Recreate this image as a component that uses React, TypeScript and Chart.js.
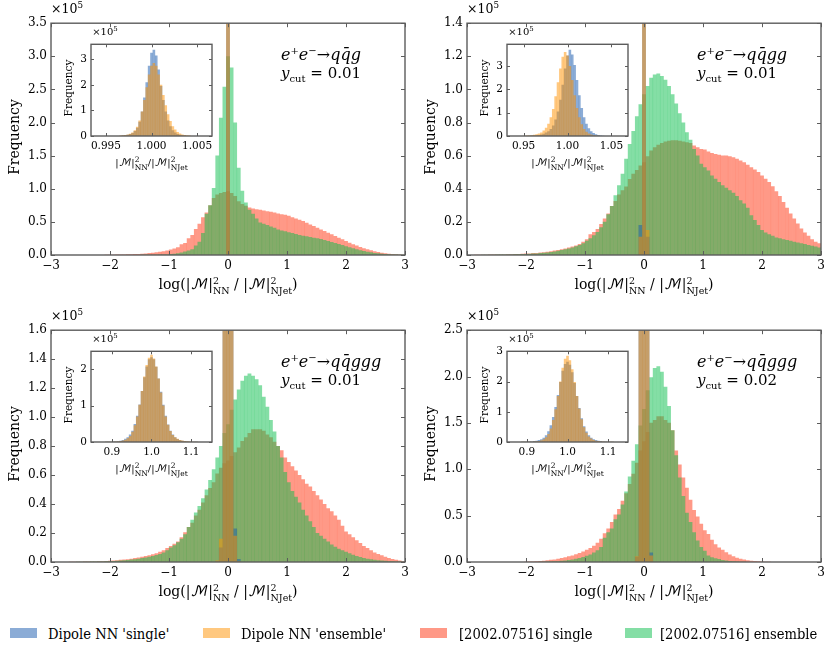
import { useEffect, useRef } from "react"
import { Chart, registerables } from "chart.js"

Chart.register(...registerables)

const SERIF = "'DejaVu Serif', serif"
const BLUE = "rgba(23, 90, 173, 0.5)"
const ORANGE = "rgba(255, 145, 0, 0.5)"
const RED = "rgba(255, 99, 71, 0.65)"
const GREEN = "rgba(10, 190, 75, 0.5)"
const FRAME = "#5c5c5c"

// main histograms: 99 bins between -3 and 3, values in units of 10^5
const MAIN_BIN = 6 / 99
const INSET_BINS = 51

const refSingle1 = [
  0, 0, 0, 0, 0, 0, 0, 0, 0, 0,
  0, 0, 0, 0, 0, 0.001, 0.002, 0.003, 0.004, 0.005,
  0.006, 0.008, 0.01, 0.012, 0.015, 0.018, 0.022, 0.027, 0.033, 0.04,
  0.047, 0.056, 0.066, 0.08, 0.095, 0.115, 0.16, 0.18, 0.25, 0.3,
  0.39, 0.47, 0.57, 0.64, 0.75, 0.86, 0.91, 0.935, 0.95, 0.96,
  0.935, 0.89, 0.81, 0.77, 0.74, 0.715, 0.7, 0.69, 0.68, 0.67,
  0.66, 0.65, 0.64, 0.625, 0.615, 0.605, 0.59, 0.57, 0.55, 0.53,
  0.51, 0.485, 0.46, 0.435, 0.41, 0.385, 0.36, 0.335, 0.31, 0.285,
  0.26, 0.235, 0.21, 0.185, 0.16, 0.14, 0.12, 0.1, 0.085, 0.07,
  0.055, 0.042, 0.032, 0.024, 0.017, 0.012, 0.008, 0.005, 0.003,
]
const refEnsemble1 = [
  0, 0, 0, 0, 0, 0, 0, 0, 0, 0,
  0, 0, 0, 0, 0, 0, 0, 0, 0, 0,
  0, 0, 0, 0, 0, 0.001, 0.001, 0.002, 0.002, 0.003,
  0.004, 0.005, 0.007, 0.012, 0.018, 0.026, 0.037, 0.052, 0.065, 0.085,
  0.14, 0.2, 0.33, 0.62, 0.75, 1.01, 1.5, 2.07, 2.54, 3.0,
  2.83, 2.0, 1.315, 0.97, 0.79, 0.68, 0.62, 0.55, 0.49, 0.47,
  0.45, 0.43, 0.41, 0.385, 0.37, 0.355, 0.34, 0.33, 0.315, 0.3,
  0.29, 0.28, 0.27, 0.26, 0.25, 0.24, 0.225, 0.21, 0.195, 0.18,
  0.165, 0.15, 0.13, 0.115, 0.1, 0.085, 0.07, 0.058, 0.048, 0.038,
  0.03, 0.023, 0.017, 0.012, 0.009, 0.006, 0.004, 0.002, 0.001,
]
const refSingle2 = [
  0, 0, 0.001, 0.001, 0.001, 0.001, 0.002, 0.002, 0.002, 0.003,
  0.003, 0.004, 0.004, 0.005, 0.006, 0.007, 0.008, 0.009, 0.011, 0.012,
  0.014, 0.016, 0.019, 0.022, 0.026, 0.03, 0.034, 0.039, 0.044, 0.05,
  0.057, 0.065, 0.08, 0.095, 0.124, 0.138, 0.157, 0.187, 0.22, 0.25,
  0.295, 0.325, 0.364, 0.39, 0.413, 0.458, 0.49, 0.512, 0.54, 0.56,
  0.595, 0.63, 0.65, 0.665, 0.675, 0.685, 0.69, 0.693, 0.693, 0.69,
  0.685, 0.68, 0.675, 0.66, 0.65, 0.64, 0.636, 0.625, 0.615, 0.61,
  0.605, 0.6, 0.6, 0.595, 0.59, 0.58, 0.57, 0.56, 0.545, 0.53,
  0.515, 0.5, 0.48, 0.46, 0.44, 0.415, 0.385, 0.355, 0.32, 0.285,
  0.25, 0.22, 0.19, 0.16, 0.135, 0.115, 0.095, 0.08, 0.07,
]
const refEnsemble2 = [
  0, 0, 0, 0, 0.001, 0.001, 0.001, 0.001, 0.002, 0.002,
  0.002, 0.003, 0.003, 0.004, 0.004, 0.005, 0.006, 0.007, 0.008, 0.009,
  0.011, 0.013, 0.015, 0.018, 0.021, 0.025, 0.029, 0.034, 0.039, 0.045,
  0.052, 0.06, 0.07, 0.085, 0.1, 0.118, 0.138, 0.167, 0.2, 0.246,
  0.295, 0.36, 0.42, 0.49, 0.58, 0.67, 0.748, 0.837, 0.91, 0.97,
  1.02, 1.07, 1.09, 1.095, 1.08, 1.057, 1.02, 0.97, 0.915, 0.856,
  0.8, 0.74, 0.695, 0.64, 0.6, 0.55, 0.53, 0.51, 0.48, 0.46,
  0.44, 0.42, 0.405, 0.39, 0.375, 0.355, 0.33, 0.31, 0.285, 0.24,
  0.21, 0.18, 0.15, 0.135, 0.125, 0.115, 0.105, 0.1, 0.095, 0.09,
  0.085, 0.08, 0.075, 0.07, 0.065, 0.06, 0.055, 0.05, 0.045,
]
const refSingle3 = [
  0, 0, 0, 0, 0, 0.001, 0.001, 0.001, 0.001, 0.002,
  0.002, 0.003, 0.003, 0.004, 0.005, 0.006, 0.008, 0.01, 0.012, 0.014,
  0.016, 0.019, 0.022, 0.026, 0.03, 0.035, 0.04, 0.046, 0.053, 0.06,
  0.07, 0.08, 0.095, 0.11, 0.125, 0.14, 0.17, 0.205, 0.24, 0.27,
  0.32, 0.36, 0.41, 0.46, 0.51, 0.55, 0.61, 0.65, 0.68, 0.7,
  0.73, 0.757, 0.79, 0.835, 0.86, 0.89, 0.915, 0.915, 0.915, 0.905,
  0.88, 0.86, 0.83, 0.8, 0.77, 0.72, 0.69, 0.66, 0.63, 0.6,
  0.57, 0.54, 0.52, 0.49, 0.46, 0.43, 0.4, 0.37, 0.35, 0.32,
  0.29, 0.25, 0.21, 0.19, 0.17, 0.15, 0.13, 0.11, 0.095, 0.08,
  0.065, 0.055, 0.045, 0.035, 0.027, 0.02, 0.014, 0.009, 0.005,
]
const refEnsemble3 = [
  0, 0, 0, 0, 0, 0, 0, 0.001, 0.001, 0.001,
  0.001, 0.002, 0.002, 0.003, 0.003, 0.004, 0.005, 0.006, 0.008, 0.009,
  0.011, 0.013, 0.016, 0.019, 0.022, 0.026, 0.03, 0.035, 0.04, 0.047,
  0.055, 0.065, 0.08, 0.1, 0.115, 0.135, 0.16, 0.19, 0.24, 0.29,
  0.34, 0.385, 0.44, 0.5, 0.565, 0.64, 0.72, 0.8, 0.89, 0.95,
  1.05, 1.12, 1.19, 1.25, 1.285, 1.3, 1.285, 1.26, 1.22, 1.14,
  1.07, 0.98, 0.9, 0.8, 0.72, 0.62, 0.55, 0.49, 0.45, 0.41,
  0.36, 0.32, 0.28, 0.24, 0.2, 0.18, 0.16, 0.14, 0.12, 0.105,
  0.09, 0.08, 0.07, 0.06, 0.05, 0.04, 0.033, 0.027, 0.022, 0.018,
  0.014, 0.011, 0.009, 0.007, 0.005, 0.004, 0.003, 0.002, 0.001,
]
const refSingle4 = [
  0, 0, 0, 0, 0, 0, 0, 0, 0, 0,
  0, 0, 0, 0, 0, 0, 0.001, 0.003, 0.005, 0.007,
  0.01, 0.013, 0.017, 0.022, 0.027, 0.034, 0.042, 0.05, 0.06, 0.07,
  0.082, 0.096, 0.112, 0.13, 0.15, 0.175, 0.205, 0.25, 0.31, 0.36,
  0.43, 0.51, 0.57, 0.66, 0.74, 0.84, 0.95, 1.07, 1.2, 1.3,
  1.4, 1.5, 1.53, 1.57, 1.57, 1.53, 1.5, 1.42, 1.2, 1.05,
  0.91, 0.8, 0.67, 0.56, 0.49, 0.41, 0.34, 0.3, 0.24, 0.19,
  0.155, 0.13, 0.105, 0.08, 0.06, 0.045, 0.033, 0.025, 0.018, 0.013,
  0.009, 0.006, 0.004, 0.002, 0.001, 0, 0, 0, 0, 0,
  0, 0, 0, 0, 0, 0, 0, 0, 0,
]
const refEnsemble4 = [
  0, 0, 0, 0, 0, 0, 0, 0, 0, 0,
  0, 0, 0, 0, 0, 0, 0, 0, 0, 0,
  0.001, 0.002, 0.003, 0.004, 0.006, 0.008, 0.011, 0.015, 0.02, 0.026,
  0.033, 0.042, 0.053, 0.066, 0.08, 0.1, 0.125, 0.16, 0.26, 0.32,
  0.36, 0.46, 0.51, 0.62, 0.76, 0.92, 1.09, 1.27, 1.47, 1.65,
  1.85, 1.99, 2.09, 2.11, 2.05, 1.89, 1.68, 1.42, 1.15, 0.91,
  0.71, 0.53, 0.43, 0.32, 0.23, 0.16, 0.12, 0.07, 0.05, 0.04,
  0.03, 0.02, 0.014, 0.01, 0.007, 0.004, 0.002, 0.001, 0, 0,
  0, 0, 0, 0, 0, 0, 0, 0, 0, 0,
  0, 0, 0, 0, 0, 0, 0, 0, 0,
]

// dipole NN spikes: the seven bins around zero, tall ones run off the axis
const dipoleSingle1 = [0, 0, 0, 12, 0, 0, 0]
const dipoleEnsemble1 = [0, 0, 0, 12, 0, 0, 0]
const dipoleSingle2 = [0, 0, 0.18, 12, 0.11, 0, 0]
const dipoleEnsemble2 = [0, 0, 0.11, 12, 0.15, 0, 0]
const dipoleSingle3 = [0.005, 0.1, 5, 5, 5, 0.23, 0.02]
const dipoleEnsemble3 = [0.01, 0.16, 5, 5, 5, 0.18, 0.005]
const dipoleSingle4 = [0, 0.055, 5, 5, 5, 0.1, 0]
const dipoleEnsemble4 = [0, 0.06, 5, 5, 5, 0.07, 0]

// insets: 51 bins around 1
const insetSingle1 = [
  0, 0, 0, 0, 0, 0, 0, 0, 0, 0, 0, 0, 0, 0.01, 0.02, 0.04, 0.07, 0.11, 0.19, 0.32, 0.55, 0.95, 1.5, 2.1, 2.75, 3.25,
  3.37, 3.15, 2.6, 1.95, 1.4, 0.95, 0.6, 0.38, 0.22, 0.13, 0.07, 0.04, 0.02, 0.01, 0, 0, 0, 0, 0, 0, 0, 0, 0, 0, 0,
]
const insetEnsemble1 = [
  0, 0, 0, 0, 0, 0, 0, 0, 0, 0, 0, 0, 0.01, 0.02, 0.03, 0.05, 0.08, 0.13, 0.22, 0.36, 0.6, 0.95, 1.4, 1.9, 2.4, 2.75,
  2.85, 2.75, 2.4, 2.0, 1.6, 1.2, 0.85, 0.58, 0.38, 0.25, 0.15, 0.09, 0.05, 0.03, 0.02, 0.01, 0, 0, 0, 0, 0, 0, 0, 0, 0,
]
const insetSingle2 = [
  0, 0, 0, 0, 0, 0, 0, 0, 0, 0.01, 0.015, 0.02, 0.03, 0.04, 0.06, 0.09, 0.14, 0.2, 0.3, 0.45, 0.7, 1.05, 1.55, 2.2, 2.9, 3.45,
  3.7, 3.5, 3.05, 2.4, 1.75, 1.2, 0.8, 0.52, 0.33, 0.2, 0.12, 0.07, 0.04, 0.02, 0.01, 0, 0, 0, 0, 0, 0, 0, 0, 0, 0,
]
const insetEnsemble2 = [
  0, 0, 0, 0, 0, 0, 0, 0.01, 0.015, 0.02, 0.03, 0.05, 0.07, 0.1, 0.15, 0.23, 0.35, 0.52, 0.8, 1.15, 1.7, 2.3, 2.9, 3.4, 3.6, 3.45,
  3.0, 2.4, 1.75, 1.2, 0.8, 0.5, 0.3, 0.18, 0.1, 0.06, 0.03, 0.015, 0.01, 0, 0, 0, 0, 0, 0, 0, 0, 0, 0, 0, 0,
]
const insetSingle3 = [
  0, 0, 0, 0, 0, 0, 0.002, 0.003, 0.005, 0.008, 0.012, 0.02, 0.033, 0.055, 0.085, 0.13, 0.2, 0.31, 0.49, 0.72, 1.03, 1.4, 1.78, 2.08, 2.28, 2.33,
  2.28, 2.07, 1.75, 1.38, 1.02, 0.72, 0.48, 0.31, 0.2, 0.125, 0.078, 0.05, 0.03, 0.018, 0.011, 0.007, 0.004, 0.003, 0.002, 0, 0, 0, 0, 0, 0,
]
const insetEnsemble3 = [
  0, 0, 0, 0, 0, 0, 0.001, 0.002, 0.003, 0.005, 0.008, 0.013, 0.022, 0.036, 0.06, 0.1, 0.165, 0.28, 0.46, 0.7, 1.02, 1.4, 1.8, 2.12, 2.32, 2.4,
  2.3, 2.08, 1.75, 1.36, 1.0, 0.7, 0.47, 0.3, 0.19, 0.125, 0.085, 0.055, 0.035, 0.022, 0.014, 0.008, 0.005, 0.003, 0.001, 0, 0, 0, 0, 0, 0,
]
const insetSingle4 = [
  0, 0, 0, 0, 0, 0, 0.002, 0.004, 0.006, 0.01, 0.016, 0.025, 0.04, 0.06, 0.09, 0.14, 0.22, 0.35, 0.55, 0.82, 1.15, 1.55, 1.98, 2.35, 2.58, 2.65,
  2.55, 2.3, 1.95, 1.52, 1.12, 0.78, 0.52, 0.34, 0.22, 0.14, 0.09, 0.06, 0.04, 0.025, 0.016, 0.01, 0.006, 0.004, 0.002, 0, 0, 0, 0, 0, 0,
]
const insetEnsemble4 = [
  0, 0, 0, 0, 0, 0, 0.001, 0.002, 0.003, 0.005, 0.008, 0.013, 0.02, 0.032, 0.05, 0.085, 0.15, 0.26, 0.44, 0.72, 1.08, 1.52, 2.0, 2.45, 2.75, 2.85,
  2.7, 2.4, 1.98, 1.52, 1.1, 0.75, 0.48, 0.3, 0.18, 0.11, 0.065, 0.04, 0.025, 0.015, 0.009, 0.005, 0.003, 0.002, 0.001, 0, 0, 0, 0, 0, 0,
]

const mainXTicks = [-3, -2, -1, 0, 1, 2, 3]
const mainXLabels = ["\u22123", "\u22122", "\u22121", "0", "1", "2", "3"]
const mainYTicks1 = [0, 0.5, 1, 1.5, 2, 2.5, 3, 3.5]
const mainYTicks2 = [0, 0.2, 0.4, 0.6, 0.8, 1, 1.2, 1.4]
const mainYTicks3 = [0, 0.2, 0.4, 0.6, 0.8, 1, 1.2, 1.4, 1.6]
const mainYTicks4 = [0, 0.5, 1, 1.5, 2, 2.5]

const insetXTicks1 = [0.995, 1, 1.005]
const insetXLabels1 = ["0.995", "1.000", "1.005"]
const insetXTicks2 = [0.95, 1, 1.05]
const insetXLabels2 = ["0.95", "1.00", "1.05"]
const insetXTicks3 = [0.9, 1, 1.1]
const insetXLabels3 = ["0.9", "1.0", "1.1"]
const insetYTicks1 = [0, 1, 2, 3]
const insetYTicks3 = [0, 1, 2]

type HistProps = {
  left: number
  top: number
  right: number
  bottom: number
  xMin: number
  xMax: number
  yMax: number
  xTicks: number[]
  xLabels: string[]
  yTicks: number[]
  yLabels: string[]
  fontSize: number
  tickLen: number
  datasets: any[]
}

const frameAndTicks = {
  id: "frameAndTicks",
  afterDraw(chart: any, _args: any, opts: any) {
    const { ctx, chartArea: a, scales } = chart
    const len = opts.len
    ctx.save()
    ctx.strokeStyle = FRAME
    ctx.lineWidth = 1
    ctx.beginPath()
    scales.x.ticks.forEach((t: any) => {
      const px = Math.round(scales.x.getPixelForValue(t.value)) + 0.5
      ctx.moveTo(px, a.bottom)
      ctx.lineTo(px, a.bottom - len)
      ctx.moveTo(px, a.top)
      ctx.lineTo(px, a.top + len)
    })
    scales.y.ticks.forEach((t: any) => {
      const py = Math.round(scales.y.getPixelForValue(t.value)) + 0.5
      ctx.moveTo(a.left, py)
      ctx.lineTo(a.left + len, py)
      ctx.moveTo(a.right, py)
      ctx.lineTo(a.right - len, py)
    })
    ctx.stroke()
    ctx.lineWidth = 1.4
    ctx.strokeRect(a.left, a.top, a.right - a.left, a.bottom - a.top)
    ctx.restore()
  },
}

function Hist(p: HistProps) {
  const ref = useRef<HTMLCanvasElement>(null)
  const pad = { left: 48, right: 9, top: 6, bottom: 24 }

  useEffect(() => {
    if (!ref.current) return
    const chart = new Chart(ref.current, {
      type: "bar",
      data: { datasets: p.datasets },
      plugins: [frameAndTicks],
      options: {
        responsive: false,
        animation: false,
        layout: { autoPadding: false, padding: { left: 0, right: pad.right, top: pad.top, bottom: 0 } },
        plugins: {
          legend: { display: false },
          tooltip: { enabled: false },
          frameAndTicks: { len: p.tickLen },
        },
        datasets: {
          bar: { grouped: false, barPercentage: 1, categoryPercentage: 1, borderWidth: 0, inflateAmount: 0.12 },
        },
        scales: {
          x: {
            type: "linear",
            offset: false,
            min: p.xMin,
            max: p.xMax,
            grid: { display: false, drawTicks: false },
            border: { display: false },
            afterBuildTicks: (s: any) => {
              s.ticks = p.xTicks.map((value) => ({ value }))
            },
            afterFit: (s: any) => {
              s.height = pad.bottom
            },
            ticks: {
              autoSkip: false,
              maxRotation: 0,
              padding: 4,
              color: "#000",
              font: { family: SERIF, size: p.fontSize },
              callback: (_v: any, i: number) => p.xLabels[i],
            },
          },
          y: {
            min: 0,
            max: p.yMax,
            grid: { display: false, drawTicks: false },
            border: { display: false },
            afterBuildTicks: (s: any) => {
              s.ticks = p.yTicks.map((value) => ({ value }))
            },
            afterFit: (s: any) => {
              s.width = pad.left
            },
            ticks: {
              autoSkip: false,
              padding: 4,
              color: "#000",
              font: { family: SERIF, size: p.fontSize },
              callback: (_v: any, i: number) => p.yLabels[i],
            },
          },
        },
      } as any,
    })
    return () => chart.destroy()
  }, [])

  return (
    <canvas
      ref={ref}
      width={p.right - p.left + pad.left + pad.right}
      height={p.bottom - p.top + pad.top + pad.bottom}
      style={{ position: "absolute", left: p.left - pad.left, top: p.top - pad.top }}
    />
  )
}

function mainDatasets(single: number[], ensemble: number[], dipSingle: number[], dipEnsemble: number[]) {
  const binned = (vals: number[], from = 0) => vals.map((y, i) => ({ x: -3 + (from + i + 0.5) * MAIN_BIN, y }))
  // first dataset is painted last; spikes share the bin centres around zero (bins 46 to 52)
  return [
    { label: "Dipole NN 'ensemble'", data: binned(dipEnsemble, 46), backgroundColor: ORANGE },
    { label: "Dipole NN 'single'", data: binned(dipSingle, 46), backgroundColor: BLUE },
    { label: "[2002.07516] ensemble", data: binned(ensemble), backgroundColor: GREEN },
    { label: "[2002.07516] single", data: binned(single), backgroundColor: RED },
  ]
}

function insetDatasets(single: number[], ensemble: number[], halfRange: number) {
  const width = (2 * halfRange) / INSET_BINS
  const binned = (vals: number[]) => vals.map((y, i) => ({ x: 1 + (i - 25) * width, y }))
  return [
    { label: "Dipole NN 'ensemble'", data: binned(ensemble), backgroundColor: ORANGE },
    { label: "Dipole NN 'single'", data: binned(single), backgroundColor: BLUE },
  ]
}

function Stack({ sup, sub, size }: { sup: string; sub: string; size: number }) {
  return (
    <span
      style={{
        display: "inline-flex",
        flexDirection: "column",
        verticalAlign: "middle",
        fontSize: size,
        lineHeight: `${size}px`,
      }}
    >
      <span>{sup}</span>
      <span>{sub}</span>
    </span>
  )
}

function Text({ x, y, size, rotate, children }: any) {
  return (
    <div
      style={{
        position: "absolute",
        left: x,
        top: y,
        fontFamily: SERIF,
        fontSize: size,
        lineHeight: 1,
        whiteSpace: "nowrap",
        color: "#000",
        transform: `translate(-50%, -50%)${rotate ? " rotate(-90deg)" : ""}`,
      }}
    >
      {children}
    </div>
  )
}

function Times({ x, y, size }: { x: number; y: number; size: number }) {
  return (
    <Text x={x} y={y} size={size}>
      {"\u00d7"}10<sup style={{ fontSize: size * 0.7, lineHeight: 0 }}>5</sup>
    </Text>
  )
}

const M = () => <span style={{ fontFamily: "'DejaVu Math TeX Gyre', 'DejaVu Serif', serif" }}>{"\u2133"}</span>

type Panel = {
  left: number
  top: number
  insetTop: number
  insetBottom: number
  insetLeft: number
  insetRight: number
  process: string
  ycut: string
  yMax: number
  yTicks: number[]
  yLabels: string[]
  data: any[]
  insetHalf: number
  insetYMax: number
  insetXTicks: number[]
  insetXLabels: string[]
  insetYTicks: number[]
  insetData: any[]
}

const panels: Panel[] = [
  {
    left: 51, top: 18, insetLeft: 91, insetRight: 212, insetTop: 40, insetBottom: 136,
    process: "g", ycut: "0.01", yMax: 3.5, yTicks: mainYTicks1, yLabels: mainYTicks1.map((v) => v.toFixed(1)),
    data: mainDatasets(refSingle1, refEnsemble1, dipoleSingle1, dipoleEnsemble1),
    insetHalf: 0.00664, insetYMax: 3.59, insetXTicks: insetXTicks1, insetXLabels: insetXLabels1, insetYTicks: insetYTicks1,
    insetData: insetDatasets(insetSingle1, insetEnsemble1, 0.00664),
  },
  {
    left: 467, top: 18, insetLeft: 507, insetRight: 628, insetTop: 40, insetBottom: 136,
    process: "gg", ycut: "0.01", yMax: 1.4, yTicks: mainYTicks2, yLabels: mainYTicks2.map((v) => v.toFixed(1)),
    data: mainDatasets(refSingle2, refEnsemble2, dipoleSingle2, dipoleEnsemble2),
    insetHalf: 0.0689, insetYMax: 3.94, insetXTicks: insetXTicks2, insetXLabels: insetXLabels2, insetYTicks: insetYTicks1,
    insetData: insetDatasets(insetSingle2, insetEnsemble2, 0.0689),
  },
  {
    left: 51, top: 325, insetLeft: 91, insetRight: 212, insetTop: 347, insetBottom: 442,
    process: "ggg", ycut: "0.01", yMax: 1.6, yTicks: mainYTicks3, yLabels: mainYTicks3.map((v) => v.toFixed(1)),
    data: mainDatasets(refSingle3, refEnsemble3, dipoleSingle3, dipoleEnsemble3),
    insetHalf: 0.1525, insetYMax: 2.5, insetXTicks: insetXTicks3, insetXLabels: insetXLabels3, insetYTicks: insetYTicks3,
    insetData: insetDatasets(insetSingle3, insetEnsemble3, 0.1525),
  },
  {
    left: 467, top: 325, insetLeft: 507, insetRight: 628, insetTop: 347, insetBottom: 442,
    process: "ggg", ycut: "0.02", yMax: 2.5, yTicks: mainYTicks4, yLabels: mainYTicks4.map((v) => v.toFixed(1)),
    data: mainDatasets(refSingle4, refEnsemble4, dipoleSingle4, dipoleEnsemble4),
    insetHalf: 0.149, insetYMax: 3, insetXTicks: insetXTicks3, insetXLabels: insetXLabels3, insetYTicks: insetYTicks1,
    insetData: insetDatasets(insetSingle4, insetEnsemble4, 0.149),
  },
]

const legendItems = [
  { label: "Dipole NN 'single'", color: BLUE, swatch: 10, text: 48 },
  { label: "Dipole NN 'ensemble'", color: ORANGE, swatch: 203, text: 241 },
  { label: "[2002.07516] single", color: RED, swatch: 420, text: 459 },
  { label: "[2002.07516] ensemble", color: GREEN, swatch: 625, text: 660 },
]

export default function App() {
  return (
    <div
      style={{
        position: "absolute", left: 0, top: 0, width: 831, height: 653, background: "#fff", overflow: "hidden",
        filter: "blur(0.35px)",
      }}
    >
      {panels.map((p, i) => {
        const right = p.left + 354
        const bottom = p.top + 237
        const cx = p.left + 177
        return (
          <div key={i}>
            <Hist
              left={p.left} right={right} top={p.top} bottom={bottom}
              xMin={-3} xMax={3} yMax={p.yMax}
              xTicks={mainXTicks} xLabels={mainXLabels}
              yTicks={p.yTicks} yLabels={p.yLabels}
              fontSize={12} tickLen={4} datasets={p.data}
            />
            <Hist
              left={p.insetLeft} right={p.insetRight} top={p.insetTop} bottom={p.insetBottom}
              xMin={1 - p.insetHalf} xMax={1 + p.insetHalf} yMax={p.insetYMax}
              xTicks={p.insetXTicks} xLabels={p.insetXLabels}
              yTicks={p.insetYTicks} yLabels={p.insetYTicks.map(String)}
              fontSize={10.5} tickLen={3} datasets={p.insetData}
            />
            <Text x={p.left - 37} y={p.top + 119} size={14} rotate>Frequency</Text>
            <Times x={p.left + 16} y={p.top - 9} size={12.5} />
            <Text x={cx} y={bottom + 30} size={14}>
              log(|<M />|<Stack sup="2" sub="NN" size={9.5} /> / |<M />|<Stack sup="2" sub="NJet" size={9.5} />)
            </Text>
            <Text x={p.insetLeft - 23} y={(p.insetTop + p.insetBottom) / 2} size={10.5} rotate>Frequency</Text>
            <Times x={p.insetLeft + 14} y={p.insetTop - 8} size={10} />
            <Text x={(p.insetLeft + p.insetRight) / 2} y={p.insetBottom + 27} size={10}>
              |<M />|<Stack sup="2" sub="NN" size={7.5} />/|<M />|<Stack sup="2" sub="NJet" size={7.5} />
            </Text>
            <div
              style={{
                position: "absolute", left: p.left + 230, top: p.top + 28, fontFamily: SERIF, fontSize: 15,
                lineHeight: "18px", whiteSpace: "nowrap", color: "#000",
              }}
            >
              <div style={{ fontSize: 16 }}>
                <i>e</i><sup style={{ fontSize: 10, lineHeight: 0 }}>+</sup><i>e</i>
                <sup style={{ fontSize: 10, lineHeight: 0 }}>{"\u2212"}</sup>
                {"\u2192"}<i>q{"q\u0304"}{p.process}</i>
              </div>
              <div>
                <i>y</i><sub style={{ fontSize: 10, lineHeight: 0 }}>cut</sub> = {p.ycut}
              </div>
            </div>
          </div>
        )
      })}
      {legendItems.map((l) => (
        <div key={l.label}>
          <div style={{ position: "absolute", left: l.swatch, top: 628, width: 27, height: 10, background: l.color }} />
          <div
            style={{
              position: "absolute", left: l.text, top: 633, transform: "translateY(-50%)",
              fontFamily: "'DejaVu Serif Condensed', 'DejaVu Serif', serif", fontSize: 14.6, whiteSpace: "nowrap", color: "#000",
            }}
          >
            {l.label}
          </div>
        </div>
      ))}
    </div>
  )
}
